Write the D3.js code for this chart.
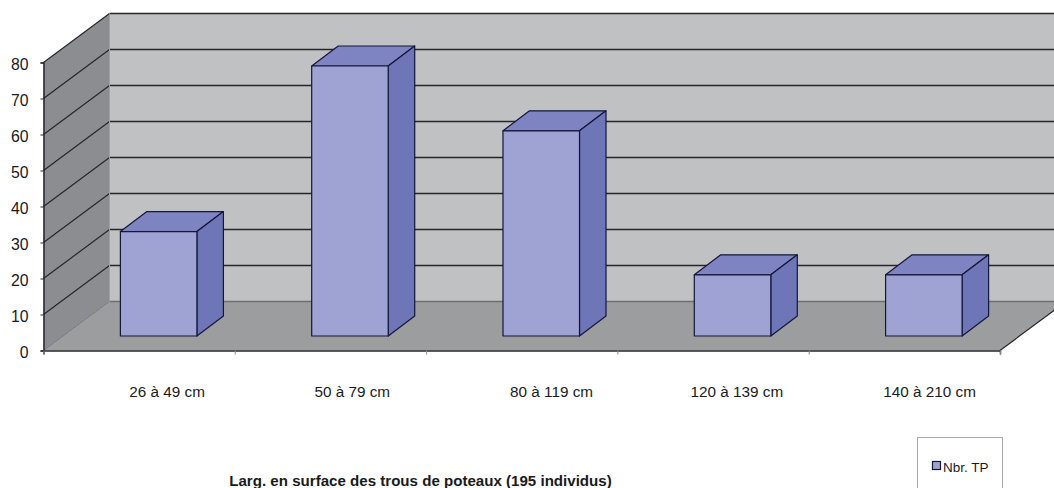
<!DOCTYPE html>
<html>
<head>
<meta charset="utf-8">
<script src="https://cdn.jsdelivr.net/npm/d3@7"></script>
<style>
  html, body { margin: 0; padding: 0; background: #fff; overflow: hidden; }
  svg { display: block; }
  text { font-family: "Liberation Sans", Arial, sans-serif; fill: #1a1a1a; }
</style>
</head>
<body>
<script>
// data (the counts add up to the 195 of the title)
const categories = ['26 à 49 cm', '50 à 79 cm', '80 à 119 cm', '120 à 139 cm', '140 à 210 cm'];
const values = [29, 75, 57, 17, 17];
const yTicks = [0, 10, 20, 30, 40, 50, 60, 70, 80];
const seriesName = 'Nbr. TP';
const chartTitle = 'Larg. en surface des trous de poteaux (195 individus)';

const width = 1054;
const height = 488;
const lineColor = '#26272b';

const svg = d3.select('body').append('svg')
  .attr('width', width).attr('height', height);

// scales for the front plane of the box
const x = d3.scaleBand().domain(categories).range([43.5, 1000]);
const tickX = d3.scaleLinear().domain([0, categories.length]).range([43.5, 1000]);
const y = d3.scaleLinear().domain([0, 80]).range([350.5, 62.5]);

// the 3d offset of the box, and where a bar sits inside it
const depth = {x: 66, y: -49};
const barDepth = {x: 26.5, y: -20};
const barShift = {x: 19.5, y: -14.5};
const barWidth = x.bandwidth() * 0.4;
// the category labels are not evenly placed in the original
const labelNudge = [28, 21.8, 29.8, 23.8, 25.2];

const poly = pts => pts.map(p => p.join(',')).join(' ');

// walls and floor
svg.append('polygon')
  .attr('points', poly([[x.range()[0] + depth.x, y(80) + depth.y], [x.range()[1] + depth.x, y(80) + depth.y],
    [x.range()[1] + depth.x, y(0) + depth.y], [x.range()[0] + depth.x, y(0) + depth.y]]))
  .attr('fill', '#c0c1c3');
svg.append('polygon')
  .attr('points', poly([[x.range()[0], y(80)], [x.range()[0] + depth.x, y(80) + depth.y],
    [x.range()[0] + depth.x, y(0) + depth.y], [x.range()[0], y(0)]]))
  .attr('fill', '#8b8d90');
svg.append('polygon')
  .attr('points', poly([[x.range()[0], y(0)], [x.range()[1], y(0)],
    [x.range()[1] + depth.x, y(0) + depth.y], [x.range()[0] + depth.x, y(0) + depth.y]]))
  .attr('fill', '#9c9d9f');

// gridlines, back wall and side wall
const grid = svg.append('g').attr('fill', 'none');
grid.selectAll('.back').data(yTicks).enter()
  .append('line')
  .attr('class', 'back')
  .attr('x1', x.range()[0] + depth.x)
  .attr('x2', x.range()[1] + depth.x)
  .attr('y1', d => y(d) + depth.y)
  .attr('y2', d => y(d) + depth.y)
  .attr('stroke', d => d === 0 ? '#6e6f72' : lineColor)
  .attr('stroke-width', 1.3);
grid.selectAll('.side').data(yTicks).enter()
  .append('line')
  .attr('class', 'side')
  .attr('x1', x.range()[0])
  .attr('x2', x.range()[0] + depth.x)
  .attr('y1', d => y(d))
  .attr('y2', d => y(d) + depth.y)
  .attr('stroke', d => d === 0 ? '#6e6f72' : lineColor)
  .attr('stroke-width', d => d === 0 ? 0.8 : 1.2);
// lighter edge where the side wall meets the back wall
grid.append('line')
  .attr('x1', x.range()[0] + depth.x).attr('x2', x.range()[0] + depth.x)
  .attr('y1', y(80) + depth.y).attr('y2', y(0) + depth.y)
  .attr('stroke', '#9fa0a3').attr('stroke-width', 1);
// right edge of the floor
grid.append('line')
  .attr('x1', x.range()[1]).attr('x2', x.range()[1] + depth.x)
  .attr('y1', y(0)).attr('y2', y(0) + depth.y)
  .attr('stroke', lineColor).attr('stroke-width', 1.2);

// bars
const bars = svg.selectAll('.bar').data(categories.map((c, i) => ({c, v: values[i]})))
  .enter().append('g').attr('class', 'bar')
  .attr('stroke', '#14163a').attr('stroke-width', 1.2).attr('stroke-linejoin', 'round');
const barLeft = d => x(d.c) + x.bandwidth() / 2 - barWidth / 2 + barShift.x;
const barRight = d => barLeft(d) + barWidth;
const barBase = () => y(0) + barShift.y;
const barTop = d => barBase() - (y(0) - y(d.v));

bars.append('polygon')
  .attr('fill', '#7e83c2')
  .attr('points', d => poly([[barLeft(d), barTop(d)], [barRight(d), barTop(d)],
    [barRight(d) + barDepth.x, barTop(d) + barDepth.y], [barLeft(d) + barDepth.x, barTop(d) + barDepth.y]]));
bars.append('polygon')
  .attr('fill', '#6f76b8')
  .attr('points', d => poly([[barRight(d), barTop(d)], [barRight(d) + barDepth.x, barTop(d) + barDepth.y],
    [barRight(d) + barDepth.x, barBase() + barDepth.y], [barRight(d), barBase()]]));
bars.append('rect')
  .attr('fill', '#9fa3d3')
  .attr('x', barLeft)
  .attr('y', barTop)
  .attr('width', barWidth)
  .attr('height', d => barBase() - barTop(d));

// axes
const yAxis = svg.append('g')
  .attr('transform', `translate(${x.range()[0]},0)`)
  .call(d3.axisLeft(y).tickValues(yTicks).tickSize(3).tickPadding(12));
yAxis.selectAll('text')
  .attr('font-size', 15.8)
  .attr('font-family', '"Liberation Sans", Arial, sans-serif')
  .attr('transform', 'translate(0,1.5)');
yAxis.selectAll('line').attr('stroke', lineColor);
yAxis.select('.domain').attr('stroke', lineColor).attr('stroke-width', 1.5);

const xTickAxis = svg.append('g')
  .attr('transform', `translate(0,${y(0)})`)
  .call(d3.axisBottom(tickX).tickValues(d3.range(categories.length + 1)).tickSize(4).tickFormat(''));
xTickAxis.select('.domain').attr('stroke', lineColor).attr('stroke-width', 1.5);
xTickAxis.selectAll('line').attr('stroke', '#8a8a8a');

const xAxis = svg.append('g')
  .attr('transform', `translate(0,${y(0)})`)
  .call(d3.axisBottom(x).tickSize(0).tickPadding(36));
xAxis.select('.domain').remove();
xAxis.selectAll('text')
  .attr('font-size', 15.3)
  .attr('font-family', '"Liberation Sans", Arial, sans-serif')
  .attr('dx', (d, i) => labelNudge[i]);

// title
svg.append('text')
  .attr('x', 420.5)
  .attr('y', 486)
  .attr('text-anchor', 'middle')
  .attr('font-size', 15.1)
  .attr('font-weight', 'bold')
  .text(chartTitle);

// legend
const legend = svg.append('g');
legend.append('rect')
  .attr('x', 917.5).attr('y', 437.5).attr('width', 85).attr('height', 60)
  .attr('fill', '#fff').attr('stroke', '#a9a9a9');
legend.append('rect')
  .attr('x', 932.5).attr('y', 461.5).attr('width', 8).attr('height', 8)
  .attr('fill', '#9fa3d3').attr('stroke', '#14163a').attr('stroke-width', 1.2);
legend.append('text')
  .attr('x', 943).attr('y', 471.5)
  .attr('font-size', 13.5)
  .text(seriesName);
</script>
</body>
</html>
